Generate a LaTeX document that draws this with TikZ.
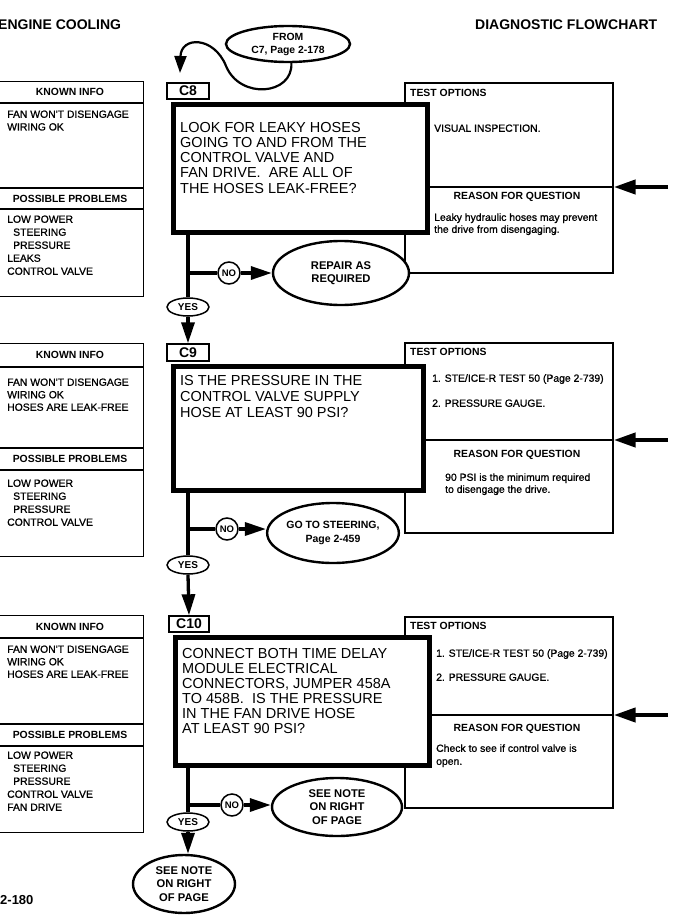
\documentclass[tikz,border=0pt]{standalone}
\usepackage{fontspec}
\setmainfont{Liberation Sans}
\newfontfamily\medfont[FakeBold=1.0]{Liberation Sans}
\usetikzlibrary{arrows.meta,shapes.geometric}
\newcommand\myfs[2]{\fontsize{#1}{#2}\selectfont}
\begin{document}
\begin{tikzpicture}[x=1pt,y=-1pt,
  title/.style={font=\bfseries\myfs{14}{16},inner sep=0pt,anchor=west},
  hdr/.style={font=\bfseries\myfs{10.4}{12},inner sep=0pt},
  item/.style={font=\medfont\myfs{10.4}{12},inner sep=0pt,anchor=west,text height=7.5pt,text depth=0pt},
  mtext/.style={font=\myfs{14.5}{16},inner sep=0pt,anchor=west,text height=10.4pt,text depth=0pt},
  lbox/.style={draw,line width=1.4pt,inner sep=0pt,anchor=north west},
  panel/.style={draw,line width=1.7pt,inner sep=0pt,anchor=north west},
  mainbox/.style={draw,fill=white,line width=5pt,inner sep=0pt,anchor=north west},
  clabel/.style={draw,fill=white,line width=1.4pt,inner sep=0pt,minimum width=42pt,minimum height=16pt,font=\bfseries\myfs{14}{16}},
  oval/.style={ellipse,draw,fill=white,line width=2.4pt,inner sep=0pt,align=center,font=\bfseries\myfs{11.2}{13.5}},
  yesnode/.style={ellipse,draw,fill=white,line width=1.5pt,inner sep=0pt,minimum width=42pt,minimum height=18pt,font=\bfseries\myfs{10}{12}},
  nonode/.style={circle,draw,fill=white,line width=1.5pt,inner sep=0pt,minimum size=22pt,font=\bfseries\myfs{9.5}{12}},
  conn/.style={line width=3.3pt},
  arr/.style={line width=3.3pt,-{Triangle[length=21pt,width=13pt]}},
  rarr/.style={line width=4.2pt,-{Triangle[length=22pt,width=14pt]}},
]
\useasboundingbox (0,0) rectangle (678,921);
\fill[white] (0,0) rectangle (678,921);

% titles
\node[title] (t1) at (-2,25) {ENGINE COOLING};
\node[title] (t2) at (475,25) {DIAGNOSTIC FLOWCHART};
\node[title,font=\bfseries\myfs{13}{15}] (pg) at (0,900) {2-180};

% ================= SECTION C8 =================
\node[lbox,minimum width=146pt,minimum height=215pt] (k8) at (-3,81) {};
\draw[line width=1.4pt] (k8.west |- 0,103) -- (k8.east |- 0,103);
\draw[line width=1.4pt] (k8.west |- 0,188) -- (k8.east |- 0,188);
\draw[line width=1.4pt] (k8.west |- 0,209) -- (k8.east |- 0,209);
\node[hdr] (kh8) at (70,92) {KNOWN INFO};
\node[hdr] (ph8) at (70,199) {POSSIBLE PROBLEMS};
\foreach \t [count=\i] in {FAN WON'T DISENGAGE,WIRING OK}
  \node[item] (ki8-\i) at (7,{114+12.7*(\i-1)}) {\t};
\foreach \t/\xx [count=\i] in {LOW POWER/7,STEERING/13,PRESSURE/13,LEAKS/7,CONTROL VALVE/7}
  \node[item] (pi8-\i) at (\xx,{219+13*(\i-1)}) {\t};

\node[panel,minimum width=208pt,minimum height=190pt] (p8) at (404,82) {};
\coordinate (s8) at (404,187);
\draw[line width=1.7pt] (p8.west |- s8) -- (p8.east |- s8);
\node[hdr,anchor=west] (to8) at (410,93) {TEST OPTIONS};
\node[item] (ti8) at (434,128) {VISUAL INSPECTION.};
\node[hdr] (rh8) at (517,197) {REASON FOR QUESTION};
\foreach \t [count=\i] in {Leaky hydraulic hoses may prevent,the drive from disengaging.}
  \node[item,text height=7.7pt] (ri8-\i) at (434,{217+12*(\i-1)}) {\t};
\coordinate (ra8) at (668,187);
\draw[rarr] (ra8) -- (p8.east |- s8);

\node[mainbox,minimum width=254pt,minimum height=128pt] (b8) at (170.5,101.5) {};
\node[clabel] (c8) at (188,91) {C8};
\foreach \t [count=\i] in {LOOK FOR LEAKY HOSES,GOING TO AND FROM THE,CONTROL VALVE AND,{FAN DRIVE.\ \ ARE ALL OF},THE HOSES LEAK-FREE?}
  \node[mtext] (q8-\i) at (180,{127+15.25*(\i-1)}) {\t};

\node[oval,minimum width=124pt,minimum height=36pt,font=\bfseries\myfs{10.4}{13}] (from) at (288,44) {FROM\\C7, Page 2-178};
\coordinate (fromtip) at (180,73);
\draw[line width=2.2pt,-{Triangle[length=17pt,width=12pt]}] (from.-80) .. controls (293,95) and (240,100) .. (226,66) .. controls (214,36) and (181,36) .. (fromtip);

\node[yesnode] (yes8) at (188,307) {YES};
\node[nonode] (no8) at (229,273) {NO};
\node[oval,minimum width=136pt,minimum height=64pt] (rep) at (341,273) {REPAIR AS\\REQUIRED};
\draw[conn] (b8.south -| yes8.north) -- (yes8.north);
\draw[conn] (no8.west -| yes8) -- (no8.west);
\draw[arr] (no8.east) -- (rep.west);

% ================= SECTION C9 =================
\node[lbox,minimum width=146pt,minimum height=213pt] (k9) at (-3,343) {};
\draw[line width=1.4pt] (k9.west |- 0,367) -- (k9.east |- 0,367);
\draw[line width=1.4pt] (k9.west |- 0,448) -- (k9.east |- 0,448);
\draw[line width=1.4pt] (k9.west |- 0,470) -- (k9.east |- 0,470);
\node[hdr] (kh9) at (70,355) {KNOWN INFO};
\node[hdr] (ph9) at (70,459) {POSSIBLE PROBLEMS};
\foreach \t [count=\i] in {FAN WON'T DISENGAGE,WIRING OK,HOSES ARE LEAK-FREE}
  \node[item] (ki9-\i) at (7,{382+12.5*(\i-1)}) {\t};
\foreach \t/\xx [count=\i] in {LOW POWER/7,STEERING/13,PRESSURE/13,CONTROL VALVE/7}
  \node[item] (pi9-\i) at (\xx,{483+13*(\i-1)}) {\t};

\node[panel,minimum width=208pt,minimum height=190pt] (p9) at (404,342) {};
\coordinate (s9) at (404,440);
\draw[line width=1.7pt] (p9.west |- s9) -- (p9.east |- s9);
\node[hdr,anchor=west] (to9) at (410,352) {TEST OPTIONS};
\node[item] (ti9-1) at (432,378) {1. STE/ICE-R TEST 50 (Page 2-739)};
\node[item] (ti9-2) at (432,403) {2. PRESSURE GAUGE.};
\node[hdr] (rh9) at (517,455) {REASON FOR QUESTION};
\foreach \t [count=\i] in {90 PSI is the minimum required,to disengage the drive.}
  \node[item,text height=7.7pt] (ri9-\i) at (445,{477+12*(\i-1)}) {\t};
\coordinate (ra9) at (668,440);
\draw[rarr] (ra9) -- (p9.east |- s9);

\node[mainbox,minimum width=250pt,minimum height=124pt] (b9) at (170.5,363.5) {};
\node[clabel,minimum height=17pt] (c9) at (188,352.5) {C9};
\foreach \t [count=\i] in {IS THE PRESSURE IN THE,CONTROL VALVE SUPPLY,HOSE AT LEAST 90 PSI?}
  \node[mtext] (q9-\i) at (180,{380+16*(\i-1)}) {\t};

\draw[arr] (yes8.south) -- (c9.north);

\node[yesnode] (yes9) at (188,565) {YES};
\node[nonode] (no9) at (227,529) {NO};
\node[oval,minimum width=130pt,minimum height=60pt,font=\bfseries\myfs{10.5}{13.5}] (steer) at (333,533) {GO TO STEERING,\\Page 2-459};
\draw[conn] (b9.south -| yes9.north) -- (yes9.north);
\draw[conn] (no9.west -| yes9) -- (no9.west);
\draw[arr] (no9.east) -- (no9.east -| steer.west);

% ================= SECTION C10 =================
\node[lbox,minimum width=146pt,minimum height=217pt] (k10) at (-3,615) {};
\draw[line width=1.4pt] (k10.west |- 0,638) -- (k10.east |- 0,638);
\draw[line width=1.4pt] (k10.west |- 0,724) -- (k10.east |- 0,724);
\draw[line width=1.4pt] (k10.west |- 0,746) -- (k10.east |- 0,746);
\node[hdr] (kh10) at (70,627) {KNOWN INFO};
\node[hdr] (ph10) at (70,735) {POSSIBLE PROBLEMS};
\foreach \t [count=\i] in {FAN WON'T DISENGAGE,WIRING OK,HOSES ARE LEAK-FREE}
  \node[item] (ki10-\i) at (7,{649+12.5*(\i-1)}) {\t};
\foreach \t/\xx [count=\i] in {LOW POWER/7,STEERING/13,PRESSURE/13,CONTROL VALVE/7,FAN DRIVE/7}
  \node[item] (pi10-\i) at (\xx,{755+13*(\i-1)}) {\t};

\node[panel,minimum width=208pt,minimum height=191pt] (p10) at (404,616) {};
\coordinate (s10) at (404,715);
\draw[line width=1.7pt] (p10.west |- s10) -- (p10.east |- s10);
\node[hdr,anchor=west] (to10) at (410,626) {TEST OPTIONS};
\node[item] (ti10-1) at (436,653) {1. STE/ICE-R TEST 50 (Page 2-739)};
\node[item] (ti10-2) at (436,677) {2. PRESSURE GAUGE.};
\node[hdr] (rh10) at (517,729) {REASON FOR QUESTION};
\foreach \t [count=\i] in {Check to see if control valve is,open.}
  \node[item,text height=7.7pt] (ri10-\i) at (436,{748+13*(\i-1)}) {\t};
\coordinate (ra10) at (668,715);
\draw[rarr] (ra10) -- (p10.east |- s10);

\node[mainbox,minimum width=254pt,minimum height=128pt] (b10) at (172.5,634.5) {};
\node[clabel,minimum width=40pt] (c10) at (189,624) {C10};
\foreach \t [count=\i] in {CONNECT BOTH TIME DELAY,MODULE ELECTRICAL,{CONNECTORS, JUMPER 458A},{TO 458B.\ \ IS THE PRESSURE},IN THE FAN DRIVE HOSE,AT LEAST 90 PSI?}
  \node[mtext] (q10-\i) at (182,{653+15*(\i-1)}) {\t};

\draw[arr] (yes9.south) -- (c10.north);

\node[yesnode] (yes10) at (188,822) {YES};
\node[nonode] (no10) at (232,805) {NO};
\node[oval,minimum width=130pt,minimum height=58pt] (note1) at (337,807) {SEE NOTE\\ON RIGHT\\OF PAGE};
\node[oval,minimum width=102pt,minimum height=58pt] (note2) at (184,884) {SEE NOTE\\ON RIGHT\\OF PAGE};
\draw[conn] (b10.south -| yes10.north) -- (yes10.north);
\draw[conn] (no10.west -| yes10) -- (no10.west);
\draw[arr] (no10.east) -- (no10.east -| note1.west);
\draw[arr] (yes10.south) -- (yes10.south |- note2.north);
\end{tikzpicture}
\end{document}
